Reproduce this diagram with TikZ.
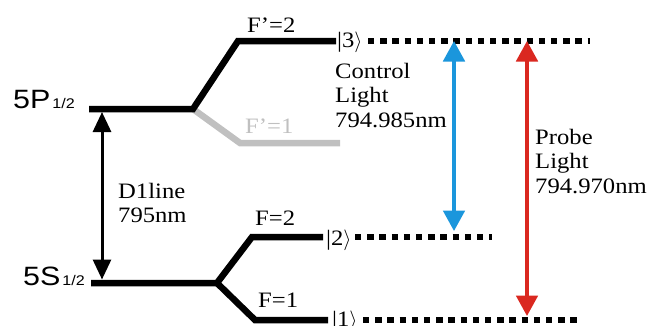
\documentclass[tikz,border=0pt]{standalone}
\usepackage{fontspec}
\setmainfont{Liberation Serif}
\newfontfamily\serifw[FakeStretch=1.12]{Liberation Serif}
\newfontfamily\sansw[FakeStretch=1.15]{Liberation Sans}
\usetikzlibrary{arrows.meta}
\definecolor{ctrlblue}{RGB}{27,150,220}
\definecolor{probered}{RGB}{218,40,32}
\definecolor{levelgray}{RGB}{192,192,192}
\begin{document}
\begin{tikzpicture}[x=1pt,y=-1pt,
  level/.style={line width=6.5pt, line join=miter},
  dotlevel/.style={line width=6.5pt, dash pattern=on 6.3pt off 5.9pt},
  txt/.style={font=\serifw\fontsize{22}{24.5}\selectfont, inner sep=0pt},
  big/.style={font=\sansw\fontsize{26.5}{28}\selectfont, inner sep=0pt, anchor=base west},
  trans/.style={line width=3.5pt, {Triangle[width=21.5pt,length=20.5pt]}-{Triangle[width=21.5pt,length=20.5pt]}},
  dline/.style={line width=3pt, {Triangle[width=18pt,length=20pt]}-{Triangle[width=18pt,length=20pt]}}]
\useasboundingbox (0,0) rectangle (650,325);

% level coordinates
\coordinate (p0) at (89,109);
\coordinate (pj) at (193,109);
\coordinate (p2a) at (238,41);
\coordinate (p2b) at (336,41);
\coordinate (p1a) at (240,143);
\coordinate (p1b) at (340,143);
\coordinate (s0) at (91,283);
\coordinate (sj) at (217,283);
\coordinate (s2a) at (252,237);
\coordinate (s2b) at (323,237);
\coordinate (s1a) at (255,320);
\coordinate (s1b) at (328,320);

% dotted level extensions
\coordinate (d3a) at (368,41);
\coordinate (d3b) at (590,41);
\coordinate (d2a) at (355,237);
\coordinate (d2b) at (492,237);
\coordinate (d1a) at (363,320);
\coordinate (d1b) at (579,320);

% levels
\draw[level, levelgray] (pj) -- (p1a) -- (p1b);
\draw[level] (p0) -- (pj) -- (p2a) -- (p2b);
\draw[level] (s0) -- (sj) -- (s2a) -- (s2b);
\draw[level] (sj) -- (s1a) -- (s1b);
\draw[dotlevel] (d3a) -- (d3b);
\draw[dotlevel] (d2a) -- (d2b);
\draw[dotlevel] (d1a) -- (d1b);

% labels
\node[big] (lab5P) at (13,108) {5P\hspace{2pt}{\fontsize{14}{14}\selectfont 1/2}};
\node[big] (lab5S) at (23,285) {5S\hspace{2pt}{\fontsize{14}{14}\selectfont 1/2}};
\node[txt, anchor=base west] (lF2p) at (247,32) {F’=2};
\node[txt, anchor=base west, text=levelgray] (lF1p) at (245,133) {F’=1};
\node[txt, anchor=base west] (lF2) at (255,225) {F=2};
\node[txt, anchor=base west] (lF1) at (258,307) {F=1};
\node[txt, anchor=base west] (k3) at (337,47) {|3$\rangle$};
\node[txt, anchor=base west] (k2) at (326,245) {|2$\rangle$};
\node[txt, anchor=base west] (k1) at (332,326) {|1$\rangle$};
\node[txt, anchor=north west, align=left] (ctrl) at (335,63) {Control\\Light\\794.985nm};
\node[txt, anchor=north west, align=left] (probe) at (535,129) {Probe\\Light\\794.970nm};
\node[txt, anchor=north west, align=left] (d1) at (118,183) {D1line\\795nm};

% transitions
\coordinate (at) at (102,112);
\coordinate (ab) at (102,279.5);
\draw[dline] (at) -- (ab);
\coordinate (bt) at (454,41);
\coordinate (bb) at (454,231);
\draw[trans, ctrlblue] (bt) -- (bb);
\coordinate (rt) at (527,41);
\coordinate (rb) at (527,316);
\draw[trans, probered] (rt) -- (rb);
\end{tikzpicture}
\end{document}
